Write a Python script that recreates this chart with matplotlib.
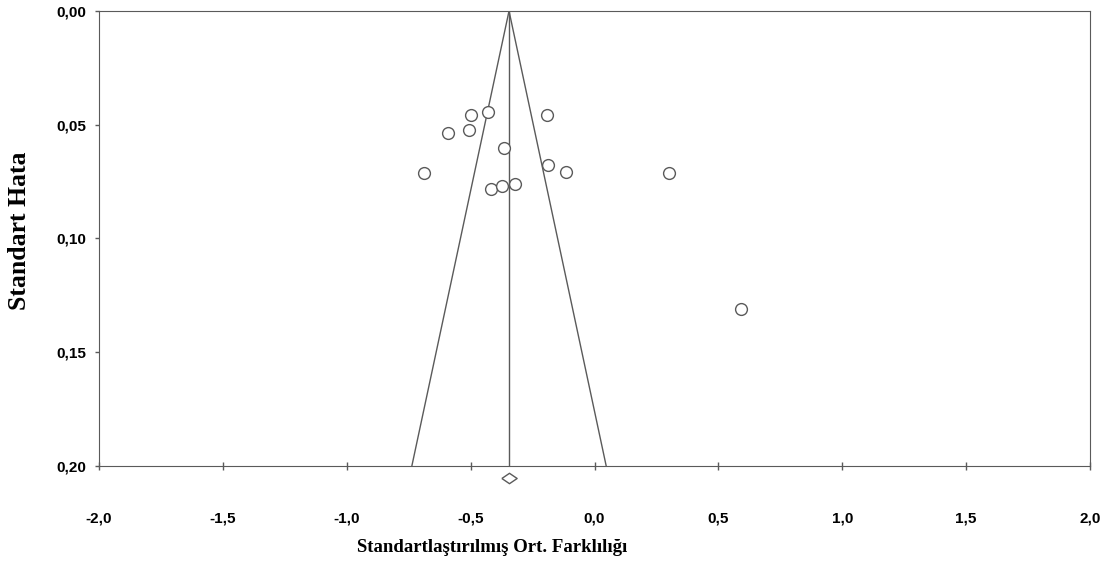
import numpy as np
import matplotlib
matplotlib.use("Agg")
import matplotlib.pyplot as plt

# effect sizes (std. mean difference) and standard errors
smd = [-0.500, -0.430, -0.192, -0.592, -0.506, -0.367, -0.687,
       -0.187, -0.115, -0.418, -0.374, -0.321, 0.299, 0.591]
se = [0.0456, 0.0444, 0.0459, 0.0538, 0.0525, 0.0604, 0.0714,
      0.0676, 0.0710, 0.0784, 0.0770, 0.0761, 0.0711, 0.1312]

pooled = -0.345
se_max = 0.20
xticks = [-2.0, -1.5, -1.0, -0.5, 0.0, 0.5, 1.0, 1.5, 2.0]
yticks = [0.00, 0.05, 0.10, 0.15, 0.20]

grey = "#5a5a5a"

fig = plt.figure(figsize=(11.07, 5.65), dpi=100)
ax = fig.add_axes([99 / 1107, 1 - 465.7 / 565, 991 / 1107, 454.7 / 565])

# funnel (95% limits) and pooled line
ax.plot([pooled - 1.96 * se_max, pooled, pooled + 1.96 * se_max], [se_max, 0, se_max],
        color=grey, lw=1)
ax.plot([pooled, pooled], [0, se_max], color=grey, lw=1)

ax.plot(smd, se, "o", mfc="white", mec=grey, ms=8.5, mew=1)

# pooled diamond below the axis
diamond = [(-1, 0), (0, 0.68), (1, 0), (0, -0.68), (-1, 0)]
ax.plot([pooled], [0.2055], marker=diamond, ms=11, mfc="white", mec=grey, mew=1,
        clip_on=False)

ax.set_xlim(-2.0, 2.0)
ax.set_ylim(0.20, 0.00)
ax.set_xticks(xticks)
ax.set_yticks(yticks)
ax.set_xticklabels([f"{v:.1f}".replace(".", ",") for v in xticks])
ax.set_yticklabels([f"{v:.2f}".replace(".", ",") for v in yticks])

for s in ax.spines.values():
    s.set_color(grey)
ax.tick_params(axis="x", direction="inout", length=6, width=1, color=grey, pad=30)
ax.tick_params(axis="y", direction="out", length=3, width=1, color=grey, pad=6.5)
for lab in ax.get_xticklabels() + ax.get_yticklabels():
    lab.set_fontfamily("Liberation Sans")
    lab.set_fontweight("bold")
    lab.set_fontsize(11)

fig.text(20 / 1107, 1 - 231 / 565, "Standart Hata", rotation=90, ha="center", va="center",
         family="Liberation Serif", weight="bold", fontsize=18.5)
fig.text(492 / 1107, 1 - 547 / 565, "Standartlaştırılmış Ort. Farklılığı", ha="center",
         va="center", family="Liberation Serif", weight="bold", fontsize=13.5)

fig.savefig("out.png", dpi=100)
